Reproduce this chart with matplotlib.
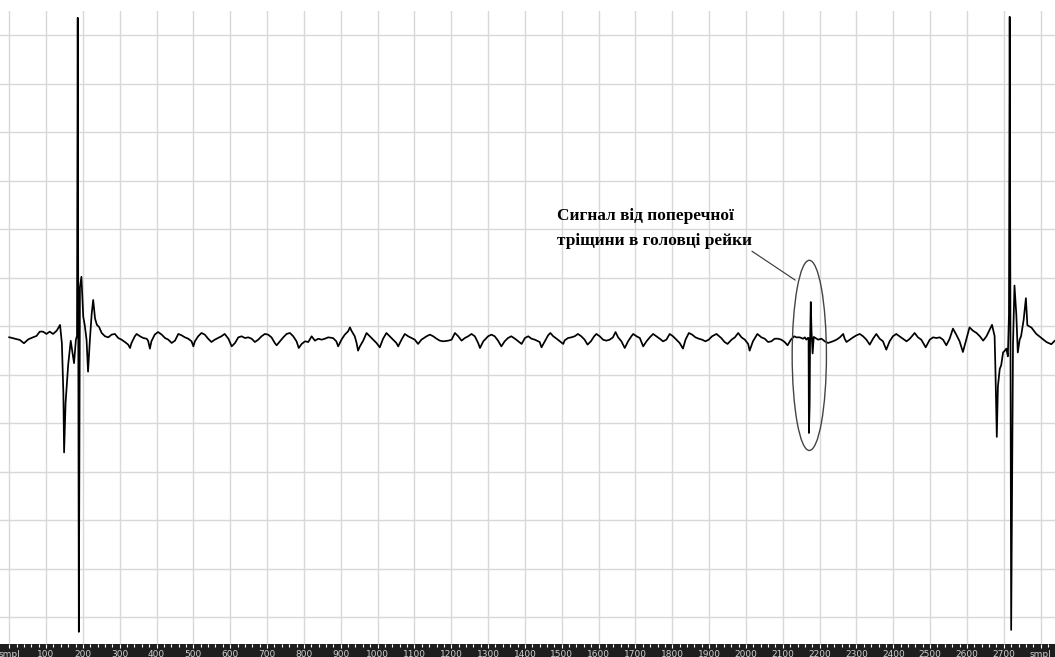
import matplotlib
matplotlib.use('Agg')
import matplotlib.pyplot as plt
from matplotlib.patches import Ellipse, Rectangle

# ---- data (sample index, amplitude in arbitrary units) ----
samples = [
    0, 11, 20, 29, 40, 52, 65, 74, 83, 92, 101, 110, 119, 129, 138, 143, 147, 149, 153, 160,
    167, 172, 176, 181, 184, 186, 189, 192, 196, 201, 205, 210, 214, 219, 224, 228, 233, 238, 244, 251,
    260, 269, 278, 287, 296, 305, 314, 323, 328, 332, 341, 346, 355, 364, 373, 377, 382, 386, 395, 404,
    414, 423, 432, 441, 450, 459, 468, 477, 486, 495, 500, 504, 513, 522, 531, 540, 549, 558, 567, 576,
    585, 595, 604, 613, 622, 631, 640, 649, 658, 667, 676, 685, 694, 703, 712, 721, 726, 735, 744, 753,
    762, 771, 780, 786, 794, 803, 812, 821, 830, 839, 848, 857, 866, 879, 888, 893, 902, 911, 920, 925,
    929, 938, 943, 947, 952, 961, 970, 979, 988, 997, 1006, 1015, 1024, 1033, 1042, 1051, 1056, 1065, 1074, 1083,
    1092, 1101, 1110, 1119, 1133, 1142, 1151, 1160, 1169, 1178, 1192, 1201, 1210, 1219, 1228, 1237, 1246, 1255, 1264, 1273,
    1278, 1287, 1300, 1309, 1318, 1327, 1336, 1345, 1354, 1363, 1373, 1382, 1391, 1400, 1409, 1418, 1427, 1440, 1445, 1454,
    1463, 1469, 1477, 1486, 1495, 1504, 1508, 1517, 1526, 1535, 1544, 1553, 1562, 1570, 1579, 1588, 1594, 1603, 1612, 1621,
    1630, 1639, 1646, 1653, 1662, 1671, 1680, 1689, 1694, 1703, 1712, 1721, 1730, 1739, 1748, 1757, 1766, 1775, 1784, 1793,
    1802, 1811, 1820, 1829, 1836, 1845, 1854, 1863, 1872, 1881, 1890, 1899, 1908, 1920, 1933, 1942, 1950, 1961, 1970, 1979,
    1988, 1997, 2006, 2010, 2019, 2031, 2042, 2051, 2060, 2069, 2078, 2087, 2096, 2105, 2113, 2122, 2131, 2137, 2146, 2155,
    2160, 2164, 2168, 2170, 2171, 2173, 2174, 2176, 2178, 2181, 2184, 2189, 2196, 2205, 2214, 2223, 2236, 2246, 2255, 2264,
    2268, 2273, 2282, 2291, 2300, 2309, 2318, 2327, 2336, 2345, 2354, 2363, 2372, 2381, 2390, 2399, 2408, 2417, 2426, 2436,
    2445, 2454, 2458, 2467, 2476, 2488, 2499, 2508, 2517, 2526, 2535, 2544, 2553, 2562, 2571, 2580, 2589, 2598, 2607, 2616,
    2626, 2635, 2644, 2653, 2668, 2675, 2677, 2681, 2684, 2689, 2693, 2698, 2703, 2707, 2711, 2714, 2716, 2720, 2725, 2729,
    2734, 2738, 2743, 2747, 2754, 2760, 2764, 2775, 2788, 2802, 2816, 2829, 2838,
]
amplitude = [
    -11.3, -12.4, -13.4, -14.1, -17.5, -13.4, -11.3, -10.0, -5.5, -5.5, -7.9, -5.5, -7.9, -4.5, 1.4, -17.5, -69, -130, -79, -40,
    -15, -28, -38, -14, -10, 318, -315, 40, 51, 9.9, 1.3, -14, -46.8, -14, 13.4, 27.1, 8, 1.5, -0.8, -6.9,
    -10.3, -11.4, -8.6, -7.9, -12.1, -13.8, -16.2, -18.9, -22.4, -17.2, -10.3, -7.9, -10.3, -12.1, -12.8, -14.8, -23.0, -15.5, -8.6, -5.9,
    -8.6, -12.1, -13.8, -17.2, -14.8, -7.9, -9.3, -11.4, -12.8, -15.5, -20.7, -15.5, -10.3, -6.9, -8.6, -12.8, -16.2, -13.8, -12.1, -10.3,
    -7.9, -12.8, -20.7, -17.2, -11.4, -10.3, -12.1, -11.4, -12.8, -16.2, -13.8, -10.3, -7.9, -8.6, -11.4, -17.2, -19.6, -15.5, -11.4, -7.9,
    -6.9, -10.3, -15.5, -22.4, -18.2, -15.5, -16.2, -10.3, -14.8, -12.8, -13.8, -12.8, -11.4, -12.1, -15.5, -20.7, -13.8, -8.6, -5.2, -1.1,
    -4.5, -10.3, -17.2, -25.1, -20.7, -14.8, -6.9, -10.3, -13.8, -17.2, -21.7, -12.8, -6.9, -10.3, -13.8, -17.2, -20.7, -13.8, -7.9, -10.3,
    -12.1, -13.8, -18.2, -13.8, -10.3, -8.6, -10.3, -12.8, -14.8, -15.5, -14.8, -13.8, -6.9, -10.3, -14.8, -12.1, -10.3, -7.9, -10.3, -17.2,
    -22.4, -15.5, -10.3, -8.6, -10.3, -14.8, -20.7, -15.5, -12.1, -10.3, -12.8, -15.5, -18.2, -12.1, -10.3, -12.8, -13.8, -16.2, -21.7, -15.5,
    -9.3, -6.9, -10.3, -12.8, -15.5, -18.2, -14.5, -12.1, -11.4, -10.3, -7.9, -10.3, -13.8, -18.9, -15.5, -10.3, -7.9, -10.3, -13.8, -14.8,
    -13.8, -11.4, -5.9, -11.4, -15.5, -22.4, -15.5, -10.3, -7.9, -10.3, -12.1, -20.7, -15.5, -11.4, -7.9, -10.3, -12.8, -15.5, -13.8, -7.9,
    -10.3, -13.8, -17.2, -23.0, -13.8, -6.9, -8.6, -11.4, -12.8, -13.8, -15.5, -13.8, -10.3, -7.9, -12.1, -16.2, -18.2, -13.8, -11.4, -6.9,
    -11.4, -13.8, -18.2, -25.1, -15.5, -7.9, -11.4, -12.8, -16.2, -15.5, -12.8, -12.8, -13.8, -16.2, -19.6, -13.8, -10.3, -11.4, -11.4, -12.8,
    -11.4, -13.8, -12, -12, -110, -80, -20, 25, -5, -28, -11, -12.1, -13.8, -12.8, -15.5, -17.2, -15.5, -13.8, -11.4, -7.9,
    -12.8, -16.2, -13.8, -11.4, -9.3, -7.9, -10.3, -13.8, -18.9, -12.8, -7.9, -12.8, -15.5, -24.1, -15.5, -10.3, -7.9, -10.3, -12.8, -15.5,
    -12.8, -8.6, -6.9, -11.4, -13.8, -21.7, -13.8, -11.4, -12.1, -11.4, -13.8, -19.6, -12.8, -2.4, -8.6, -15.5, -26.5, -13.8, -1.1, -4.5,
    -6.9, -10.3, -14.8, -10.3, 1.5, -10, -40, -114, -62, -44, -40, -27, -25, -23, -31, 12, 319, -313, -18, 42,
    12, -27, -14, -10, 7, 29, 1, -1.3, -7.8, -12.1, -16.3, -18.5, -15,
]

tick_samples = list(range(0, 2900, 100))
tick_labels = ['smpl'] + [str(v) for v in range(100, 2800, 100)] + ['smpl']
minor_tick_samples = list(range(0, 2840, 20))
grid_levels = list(range(-300, 350, 50))

annotation_text = "Сигнал від поперечної\nтріщини в головці рейки"
crack_sample = 2172
crack_level = -30

# ---- figure ----
fig = plt.figure(figsize=(10.55, 6.57), dpi=100)
band_h = 13 / 657
fig.add_artist(Rectangle((0, 0), 1, band_h, transform=fig.transFigure,
                         facecolor='#1e1e1e', edgecolor='none', zorder=-1))
ax = fig.add_axes([0, band_h, 1, (657 - 11 - 13) / 657])
ax.set_xlim(-25, 2839)
ax.set_ylim(-327.5, 325)

ax.set_xticks(tick_samples)
ax.set_xticklabels(tick_labels)
ax.set_xticks(minor_tick_samples, minor=True)
ax.set_yticks(grid_levels)
ax.tick_params(axis='y', left=False, labelleft=False)
ax.tick_params(axis='x', which='major', direction='out', length=3, width=0.8,
               colors='white', labelcolor='#cfcfcf', labelsize=6.5, pad=1)
ax.tick_params(axis='x', which='minor', direction='out', length=2, width=0.8, colors='white')
for sp in ax.spines.values():
    sp.set_visible(False)
ax.grid(True, which='major', color='#d8d8d8', linewidth=1.0)
ax.set_axisbelow(True)

ax.plot(samples, amplitude, color='black', linewidth=1.25, zorder=3)

ax.add_patch(Ellipse((crack_sample, crack_level), width=93, height=196,
                     facecolor='none', edgecolor='#444444', linewidth=1.0, zorder=4))

ax.annotate('', xy=(2140, 46), xytext=(2010, 79),
            arrowprops=dict(arrowstyle='-', color='#333333', lw=0.8))
ax.text(1486, 122, annotation_text, ha='left', va='top',
        fontfamily='Liberation Serif', fontweight='bold', fontsize=12.4,
        color='black', linespacing=1.75, zorder=5)

fig.savefig('out.png', dpi=100)
